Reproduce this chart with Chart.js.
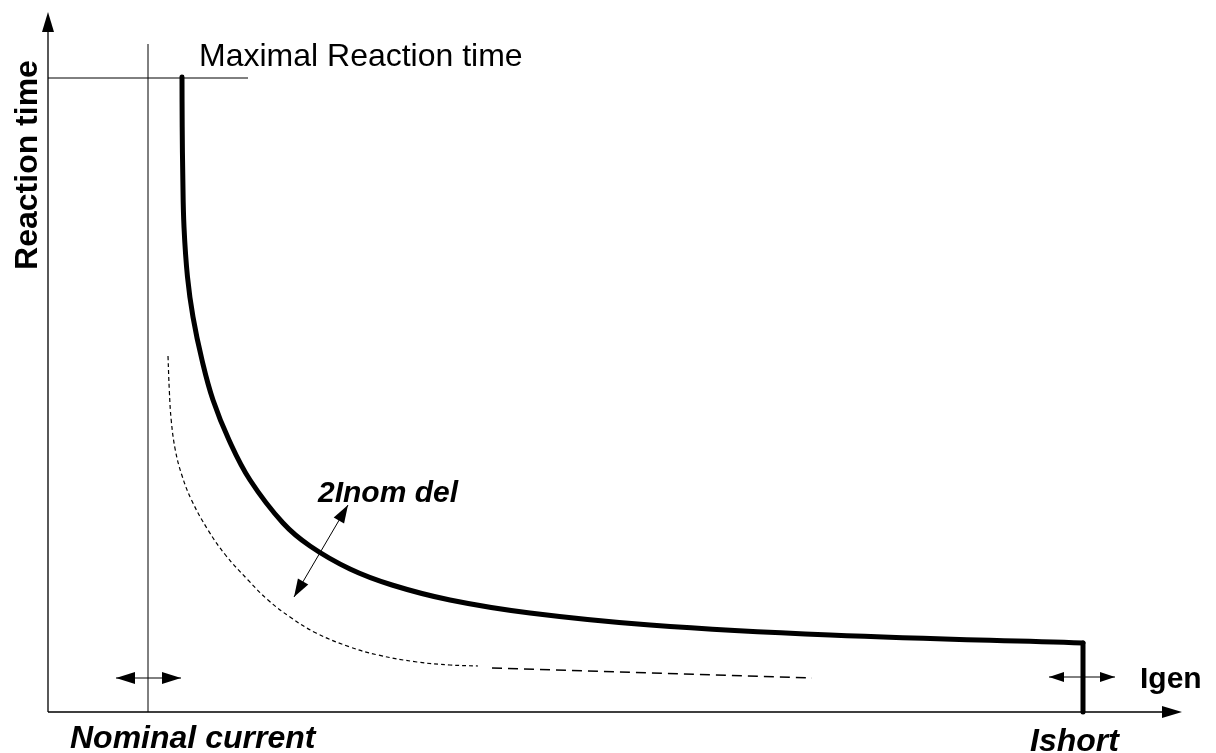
<!DOCTYPE html>
<html>
<head>
<meta charset="utf-8">
<script src="https://cdn.jsdelivr.net/npm/chart.js@4/dist/chart.umd.min.js"></script>
<style>
html,body{margin:0;padding:0;background:#fff;overflow:hidden}
canvas{display:block}
</style>
</head>
<body>
<canvas id="c" width="1216" height="753"></canvas>
<script>
// ---- data (current and reaction time in arbitrary units) ----
const curveCurrent = [1.34,1.342,1.348,1.36,1.395,1.45,1.54,1.65,1.81,2.02,2.35,2.62,3.02,3.44,4.02,4.82,6.02,7.82,10.35];
const curveTime    = [6.35,5.85,5.35,4.85,4.35,3.95,3.52,3.12,2.72,2.32,1.89,1.66,1.43,1.27,1.12,0.99,0.87,0.77,0.69];
const shortCurrent = [10.35,10.35];
const shortTime    = [0.69,0.00];
const delCurrent = [1.20,1.213,1.232,1.273,1.338,1.435,1.60,1.775,2.00,2.20,2.42,2.68,3.02,3.30,3.69,4.02,4.30];
const delTime    = [3.56,3.22,2.92,2.62,2.37,2.12,1.82,1.57,1.32,1.12,0.95,0.79,0.65,0.57,0.50,0.47,0.46];
const tailCurrent = [4.44,7.64];
const tailTime    = [0.44,0.34];
const nominalCurrent = 1.00;
const nominalLineTime = [0.00,6.68];
const maxReactionTime = 6.34;
const maxLineCurrent = [0.00,2.00];
const xAxisEnd = 11.34;
const yAxisEnd = 7.00;
// double arrows: [x1,y1,x2,y2]
const arrowNominal = [0.68,0.34,1.33,0.34];
const arrowShort   = [10.01,0.35,10.67,0.35];
const arrowDel     = [3.00,2.07,2.46,1.15];
// labels: text, x, y
const labelTexts = ["Maximal Reaction time","2Inom del","Nominal current","Ishort","Igen","Reaction time"];
const labelX     = [1.51,2.70,0.22,9.82,10.92,-0.20];
const labelY     = [6.46,2.10,-0.36,-0.39,0.24,5.47];

const pts = (xs,ys)=>xs.map((x,i)=>({x:x,y:ys[i]}));

const FONT = '"Liberation Sans", Arial, sans-serif';
const labelFonts = [
  '32px '+FONT,
  'italic bold 30px '+FONT,
  'italic bold 32px '+FONT,
  'italic bold 32px '+FONT,
  'bold 30px '+FONT,
  'bold 32px '+FONT
];

function head(ctx, x1,y1,x2,y2,len,hw){
  const a=Math.atan2(y2-y1,x2-x1);
  ctx.beginPath();
  ctx.moveTo(x2,y2);
  ctx.lineTo(x2-len*Math.cos(a)+hw*Math.sin(a), y2-len*Math.sin(a)-hw*Math.cos(a));
  ctx.lineTo(x2-len*Math.cos(a)-hw*Math.sin(a), y2-len*Math.sin(a)+hw*Math.cos(a));
  ctx.closePath();
  ctx.fill();
}

const deco = {
  id:'deco',
  afterDatasetsDraw(chart){
    const ctx=chart.ctx, xs=chart.scales.x, ys=chart.scales.y;
    const X=v=>xs.getPixelForValue(v), Y=v=>ys.getPixelForValue(v);
    ctx.save();
    ctx.strokeStyle='#000'; ctx.fillStyle='#000';
    // axes
    ctx.lineWidth=1.3;
    ctx.beginPath();
    ctx.moveTo(X(0),Y(0)); ctx.lineTo(X(xAxisEnd)-15,Y(0));
    ctx.moveTo(X(0),Y(0)); ctx.lineTo(X(0),Y(yAxisEnd)+15);
    ctx.stroke();
    head(ctx,X(0),Y(0),X(xAxisEnd),Y(0),20,6);
    head(ctx,X(0),Y(0),X(0),Y(yAxisEnd),20,6);
    // double arrows
    const dbl=(a,len,hw)=>{
      const x1=X(a[0]),y1=Y(a[1]),x2=X(a[2]),y2=Y(a[3]);
      ctx.lineWidth=1;
      ctx.beginPath(); ctx.moveTo(x1,y1); ctx.lineTo(x2,y2); ctx.stroke();
      head(ctx,x1,y1,x2,y2,len,hw); head(ctx,x2,y2,x1,y1,len,hw);
    };
    dbl(arrowNominal,19,6);
    dbl(arrowShort,15,5);
    dbl(arrowDel,18,6);
    // labels
    ctx.textAlign='left'; ctx.textBaseline='alphabetic';
    for(let i=0;i<labelTexts.length;i++){
      ctx.font=labelFonts[i];
      if(labelTexts[i]==='Reaction time'){
        ctx.save();
        ctx.translate(X(labelX[i]),Y(labelY[i]));
        ctx.rotate(-Math.PI/2);
        ctx.textAlign='center'; ctx.textBaseline='middle';
        ctx.fillText(labelTexts[i],0,0);
        ctx.restore();
      } else {
        ctx.fillText(labelTexts[i],X(labelX[i]),Y(labelY[i]));
      }
    }
    ctx.restore();
  }
};

new Chart(document.getElementById('c'),{
  type:'scatter',
  data:{datasets:[
    {data:pts(curveCurrent,curveTime),showLine:true,borderColor:'#000',borderWidth:5,pointRadius:0,tension:0.4,borderCapStyle:'round',borderJoinStyle:'round'},
    {data:pts(shortCurrent,shortTime),showLine:true,borderColor:'#000',borderWidth:5,pointRadius:0,borderCapStyle:'round'},
    {data:pts(delCurrent,delTime),showLine:true,borderColor:'#000',borderWidth:1.2,borderDash:[4,3],pointRadius:0,tension:0.4},
    {data:pts(tailCurrent,tailTime),showLine:true,borderColor:'#000',borderWidth:1.5,borderDash:[10,6],pointRadius:0},
    {data:pts([nominalCurrent,nominalCurrent],nominalLineTime),showLine:true,borderColor:'#000',borderWidth:1,pointRadius:0},
    {data:pts(maxLineCurrent,[maxReactionTime,maxReactionTime]),showLine:true,borderColor:'#000',borderWidth:1,pointRadius:0}
  ]},
  options:{
    responsive:false, animation:false, devicePixelRatio:1,
    layout:{padding:0},
    plugins:{legend:{display:false},tooltip:{enabled:false}},
    scales:{
      x:{type:'linear',min:-0.48,max:11.68,display:false},
      y:{type:'linear',min:-0.41,max:7.12,display:false}
    }
  },
  plugins:[deco]
});
</script>
</body>
</html>
